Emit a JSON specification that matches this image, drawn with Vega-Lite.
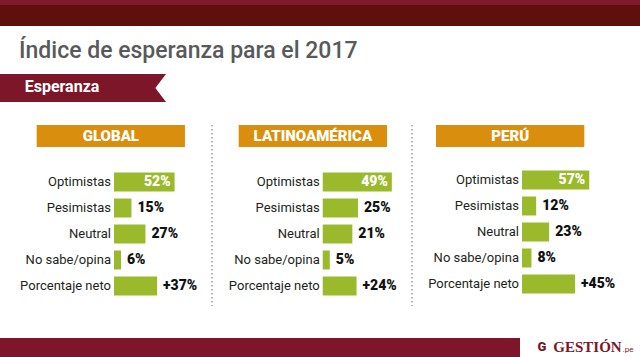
{
  "$schema": "https://vega.github.io/schema/vega-lite/v6.json",
  "padding": 0,
  "background": "white",
  "config": {"view": {"stroke": null}, "font": "Roboto"},
  "datasets": {
    "esperanza": [
      {"region": "GLOBAL", "cat": "Optimistas", "value": 52, "label": "52%"},
      {"region": "GLOBAL", "cat": "Pesimistas", "value": 15, "label": "15%"},
      {"region": "GLOBAL", "cat": "Neutral", "value": 27, "label": "27%"},
      {"region": "GLOBAL", "cat": "No sabe/opina", "value": 6, "label": "6%"},
      {"region": "GLOBAL", "cat": "Porcentaje neto", "value": 37, "label": "+37%"},
      {"region": "LATINOAMÉRICA", "cat": "Optimistas", "value": 49, "label": "49%"},
      {"region": "LATINOAMÉRICA", "cat": "Pesimistas", "value": 25, "label": "25%"},
      {"region": "LATINOAMÉRICA", "cat": "Neutral", "value": 21, "label": "21%"},
      {"region": "LATINOAMÉRICA", "cat": "No sabe/opina", "value": 5, "label": "5%"},
      {"region": "LATINOAMÉRICA", "cat": "Porcentaje neto", "value": 24, "label": "+24%"},
      {"region": "PERÚ", "cat": "Optimistas", "value": 57, "label": "57%"},
      {"region": "PERÚ", "cat": "Pesimistas", "value": 12, "label": "12%"},
      {"region": "PERÚ", "cat": "Neutral", "value": 23, "label": "23%"},
      {"region": "PERÚ", "cat": "No sabe/opina", "value": 8, "label": "8%"},
      {"region": "PERÚ", "cat": "Porcentaje neto", "value": 45, "label": "+45%"}
    ]
  },
  "spacing": 14,
  "vconcat": [
    {
      "spacing": 0,
      "vconcat": [
        {"width": 640, "height": 5, "data": {"values": [{}]}, "mark": {"type": "rect", "color": "#7e1a2a"}, "encoding": {}},
        {"width": 640, "height": 21, "data": {"values": [{}]}, "mark": {"type": "rect", "color": "#5e0f0e"}, "encoding": {}}
      ]
    },
    {
      "spacing": 22,
      "vconcat": [
        {
          "width": 166, "height": 28,
          "data": {"values": [{"t": "Esperanza"}]},
          "title": {"text": "Índice de esperanza para el 2017", "anchor": "start", "frame": "group", "fontSize": 23, "fontWeight": 500, "font": "Roboto", "color": "#58595b", "offset": 11, "dx": 19},
          "layer": [
            {"mark": {"type": "rect", "color": "#7d1628"}, "encoding": {}},
            {"mark": {"type": "point", "shape": "M0,-1L-0.76,0L0,1Z", "size": 784, "filled": true, "color": "white", "opacity": 1, "strokeWidth": 0}, "encoding": {"x": {"value": "width"}}},
            {"mark": {"type": "text", "color": "white", "font": "Roboto", "fontWeight": "bold", "fontSize": 16, "baseline": "middle", "dx": -21, "dy": -1}, "encoding": {"text": {"field": "t"}}}
          ]
        },
        {
          "spacing": 31,
          "vconcat": [
            {
              "spacing": 0,
              "hconcat": [
                {
                  "spacing": 0,
                  "vconcat": [
                    {
                      "width": 212, "height": 22,
                      "data": {"name": "esperanza"},
                      "transform": [{"filter": "datum.region === 'GLOBAL' && datum.cat === 'Optimistas'"}],
                      "layer": [
                        {"mark": {"type": "rule", "color": "#8a8a8a", "strokeDash": [1.5, 2.5], "strokeWidth": 1.2}, "encoding": {"x": {"value": "width"}}},
                        {"mark": {"type": "rect", "color": "#d98f0d"}, "encoding": {"x": {"datum": -66.4, "type": "quantitative", "scale": {"domain": [-97.85, 84.12], "nice": false}, "axis": null}, "x2": {"datum": 60.9}}},
                        {"mark": {"type": "text", "color": "white", "font": "Roboto", "fontWeight": 900, "fontSize": 15, "baseline": "middle"}, "encoding": {"x": {"datum": -2.7, "type": "quantitative"}, "text": {"field": "region"}}}
                      ]
                    },
                    {
                      "width": 212, "height": 157,
                      "data": {"name": "esperanza"},
                      "transform": [{"filter": "datum.region === 'GLOBAL'"}],
                      "layer": [
                        {"transform": [{"filter": "datum.cat === 'Optimistas'"}], "mark": {"type": "rule", "color": "#8a8a8a", "strokeDash": [1.5, 2.5], "strokeWidth": 1.2}, "encoding": {"x": {"value": "width"}, "y": {"value": 0}, "y2": {"value": "height"}}},
                        {"mark": {"type": "bar", "color": "#9aba2c"}, "encoding": {"x": {"field": "value", "type": "quantitative", "scale": {"domain": [-97.85, 84.12], "nice": false}, "axis": null}, "y": {"field": "cat", "type": "nominal", "scale": {"domain": ["Optimistas", "Pesimistas", "Neutral", "No sabe/opina", "Porcentaje neto"], "paddingInner": 0.27, "paddingOuter": 0.654, "align": 0.691}, "axis": null}}},
                        {"mark": {"type": "text", "align": "right", "dx": -3, "fontSize": 13, "color": "#231f20", "baseline": "middle"}, "encoding": {"x": {"datum": 0, "type": "quantitative"}, "y": {"field": "cat", "type": "nominal"}, "text": {"field": "cat"}}},
                        {"transform": [{"filter": "datum.cat !== 'Optimistas'"}], "mark": {"type": "text", "align": "left", "dx": 6, "fontSize": 14, "fontWeight": 900, "color": "#111111", "baseline": "middle"}, "encoding": {"x": {"field": "value", "type": "quantitative"}, "y": {"field": "cat", "type": "nominal"}, "text": {"field": "label"}}},
                        {"transform": [{"filter": "datum.cat === 'Optimistas'"}], "mark": {"type": "text", "align": "right", "dx": -4, "fontSize": 14, "fontWeight": 900, "color": "white", "baseline": "middle"}, "encoding": {"x": {"field": "value", "type": "quantitative"}, "y": {"field": "cat", "type": "nominal"}, "text": {"field": "label"}}}
                      ]
                    }
                  ]
                },
                {
                  "spacing": 0,
                  "vconcat": [
                    {
                      "width": 199, "height": 22,
                      "data": {"name": "esperanza"},
                      "transform": [{"filter": "datum.region === 'LATINOAMÉRICA' && datum.cat === 'Optimistas'"}],
                      "layer": [
                        {"mark": {"type": "rule", "color": "#8a8a8a", "strokeDash": [1.5, 2.5], "strokeWidth": 1.2}, "encoding": {"x": {"value": "width"}}},
                        {"mark": {"type": "rect", "color": "#d98f0d"}, "encoding": {"x": {"datum": -59.6, "type": "quantitative", "scale": {"domain": [-77.8, 63.3], "nice": false}, "axis": null}, "x2": {"datum": 45.6}}},
                        {"mark": {"type": "text", "color": "white", "font": "Roboto", "fontWeight": 900, "fontSize": 15, "baseline": "middle"}, "encoding": {"x": {"datum": -7, "type": "quantitative"}, "text": {"field": "region"}}}
                      ]
                    },
                    {
                      "width": 199, "height": 157,
                      "data": {"name": "esperanza"},
                      "transform": [{"filter": "datum.region === 'LATINOAMÉRICA'"}],
                      "layer": [
                        {"transform": [{"filter": "datum.cat === 'Optimistas'"}], "mark": {"type": "rule", "color": "#8a8a8a", "strokeDash": [1.5, 2.5], "strokeWidth": 1.2}, "encoding": {"x": {"value": "width"}, "y": {"value": 0}, "y2": {"value": "height"}}},
                        {"mark": {"type": "bar", "color": "#9aba2c"}, "encoding": {"x": {"field": "value", "type": "quantitative", "scale": {"domain": [-77.8, 63.3], "nice": false}, "axis": null}, "y": {"field": "cat", "type": "nominal", "scale": {"domain": ["Optimistas", "Pesimistas", "Neutral", "No sabe/opina", "Porcentaje neto"], "paddingInner": 0.27, "paddingOuter": 0.654, "align": 0.691}, "axis": null}}},
                        {"mark": {"type": "text", "align": "right", "dx": -3, "fontSize": 13, "color": "#231f20", "baseline": "middle"}, "encoding": {"x": {"datum": 0, "type": "quantitative"}, "y": {"field": "cat", "type": "nominal"}, "text": {"field": "cat"}}},
                        {"transform": [{"filter": "datum.cat !== 'Optimistas'"}], "mark": {"type": "text", "align": "left", "dx": 6, "fontSize": 14, "fontWeight": 900, "color": "#111111", "baseline": "middle"}, "encoding": {"x": {"field": "value", "type": "quantitative"}, "y": {"field": "cat", "type": "nominal"}, "text": {"field": "label"}}},
                        {"transform": [{"filter": "datum.cat === 'Optimistas'"}], "mark": {"type": "text", "align": "right", "dx": -4, "fontSize": 14, "fontWeight": 900, "color": "white", "baseline": "middle"}, "encoding": {"x": {"field": "value", "type": "quantitative"}, "y": {"field": "cat", "type": "nominal"}, "text": {"field": "label"}}}
                      ]
                    }
                  ]
                },
                {
                  "spacing": 0,
                  "vconcat": [
                    {
                      "width": 229, "height": 22,
                      "data": {"name": "esperanza"},
                      "transform": [{"filter": "datum.region === 'PERÚ' && datum.cat === 'Optimistas'"}],
                      "layer": [
                        {"mark": {"type": "rect", "color": "#d98f0d"}, "encoding": {"x": {"datum": -72.9, "type": "quantitative", "scale": {"domain": [-92.4, 101.7], "nice": false}, "axis": null}, "x2": {"datum": 52.8}}},
                        {"mark": {"type": "text", "color": "white", "font": "Roboto", "fontWeight": 900, "fontSize": 15, "baseline": "middle"}, "encoding": {"x": {"datum": -10, "type": "quantitative"}, "text": {"field": "region"}}}
                      ]
                    },
                    {
                      "width": 229, "height": 157,
                      "data": {"name": "esperanza"},
                      "transform": [{"filter": "datum.region === 'PERÚ'"}],
                      "layer": [
                        {"mark": {"type": "bar", "color": "#9aba2c"}, "encoding": {"x": {"field": "value", "type": "quantitative", "scale": {"domain": [-92.4, 101.7], "nice": false}, "axis": null}, "y": {"field": "cat", "type": "nominal", "scale": {"domain": ["Optimistas", "Pesimistas", "Neutral", "No sabe/opina", "Porcentaje neto"], "paddingInner": 0.27, "paddingOuter": 0.654, "align": 0.691}, "axis": null}}},
                        {"mark": {"type": "text", "align": "right", "dx": -3, "fontSize": 13, "color": "#231f20", "baseline": "middle"}, "encoding": {"x": {"datum": 0, "type": "quantitative"}, "y": {"field": "cat", "type": "nominal"}, "text": {"field": "cat"}}},
                        {"transform": [{"filter": "datum.cat !== 'Optimistas'"}], "mark": {"type": "text", "align": "left", "dx": 6, "fontSize": 14, "fontWeight": 900, "color": "#111111", "baseline": "middle"}, "encoding": {"x": {"field": "value", "type": "quantitative"}, "y": {"field": "cat", "type": "nominal"}, "text": {"field": "label"}}},
                        {"transform": [{"filter": "datum.cat === 'Optimistas'"}], "mark": {"type": "text", "align": "right", "dx": -4, "fontSize": 14, "fontWeight": 900, "color": "white", "baseline": "middle"}, "encoding": {"x": {"field": "value", "type": "quantitative"}, "y": {"field": "cat", "type": "nominal"}, "text": {"field": "label"}}}
                      ]
                    }
                  ]
                }
              ]
            },
            {
              "spacing": 0,
              "hconcat": [
                {"width": 520, "height": 19, "data": {"values": [{}]}, "mark": {"type": "rect", "color": "#7d1628"}, "encoding": {}},
                {
                  "width": 120, "height": 19,
                  "data": {"values": [{"t": "GESTIÓN", "s": ".pe", "g": "G"}]},
                  "layer": [
                    {"mark": {"type": "text", "font": "Liberation Serif", "fontWeight": "bold", "fontSize": 15, "color": "#7d1628", "baseline": "middle", "dx": 7.5, "dy": -1}, "encoding": {"text": {"field": "t"}}},
                    {"mark": {"type": "text", "font": "Roboto", "fontSize": 8, "color": "#7d1628", "baseline": "middle", "dx": 48, "dy": 2}, "encoding": {"text": {"field": "s"}}},
                    {"mark": {"type": "text", "font": "Roboto", "fontWeight": 900, "fontSize": 13, "color": "#7d1628", "baseline": "middle", "dx": -38, "dy": -1}, "encoding": {"text": {"field": "g"}}}
                  ]
                }
              ]
            }
          ]
        }
      ]
    }
  ]
}
